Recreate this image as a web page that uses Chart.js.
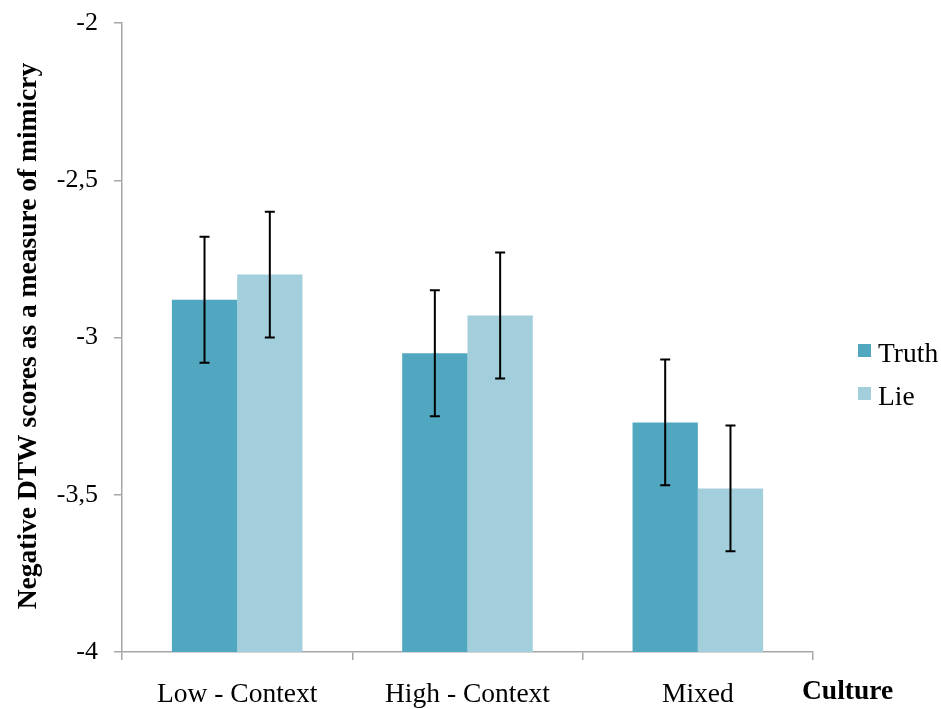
<!DOCTYPE html>
<html lang="en">
<head>
    <meta charset="UTF-8">
    <title>Mimicry by Culture</title>
    <script src="https://cdn.jsdelivr.net/npm/chart.js"></script>
    <style>
        body { margin: 0; background: #fff; }
        #wrap { width: 941px; height: 709px; }
    </style>
</head>
<body>
    <div id="wrap">
        <canvas id="mimicryChart" width="941" height="709"></canvas>
    </div>

    <script>
        // data
        const categories = ['Low - Context', 'High - Context', 'Mixed'];
        const truthMeans = [-2.88, -3.05, -3.27];
        const lieMeans = [-2.80, -2.93, -3.48];
        const truthErr = [0.2, 0.2, 0.2];
        const lieErr = [0.2, 0.2, 0.2];
        const yMin = -4;
        const yMax = -2;
        const yStep = 0.5;

        const serif = '"Liberation Serif", "Times New Roman", serif';
        const axisGray = '#a6a6a6';
        const truthColor = '#50a7bf';
        const lieColor = '#a3cfdc';

        // error bars, drawn with the y scale
        const errorBars = {
            id: 'errorBars',
            afterDatasetsDraw(chart) {
                const ctx = chart.ctx;
                const yScale = chart.scales.y;
                const errs = [truthErr, lieErr];
                const means = [truthMeans, lieMeans];
                ctx.save();
                ctx.strokeStyle = '#000';
                ctx.lineWidth = 2;
                chart.data.datasets.forEach((ds, di) => {
                    const meta = chart.getDatasetMeta(di);
                    meta.data.forEach((bar, i) => {
                        const top = yScale.getPixelForValue(means[di][i] + errs[di][i]);
                        const bottom = yScale.getPixelForValue(means[di][i] - errs[di][i]);
                        const x = bar.x;
                        ctx.beginPath();
                        ctx.moveTo(x, top);
                        ctx.lineTo(x, bottom);
                        ctx.moveTo(x - 5, top);
                        ctx.lineTo(x + 5, top);
                        ctx.moveTo(x - 5, bottom);
                        ctx.lineTo(x + 5, bottom);
                        ctx.stroke();
                    });
                });
                ctx.restore();
            }
        };

        // legend + axis titles
        const extras = {
            id: 'extras',
            afterDraw(chart) {
                const ctx = chart.ctx;
                ctx.save();
                ctx.fillStyle = '#000';

                // y title
                ctx.font = 'bold 27.5px ' + serif;
                ctx.textAlign = 'center';
                ctx.textBaseline = 'middle';
                ctx.translate(29, 336);
                ctx.rotate(-Math.PI / 2);
                ctx.fillText('Negative DTW scores as a measure of mimicry', 0, 0);
                ctx.setTransform(1, 0, 0, 1, 0, 0);

                // x title
                ctx.textAlign = 'left';
                ctx.fillText('Culture', 802, 692);

                // legend
                ctx.font = '27.5px ' + serif;
                const items = [['Truth', truthColor, 355], ['Lie', lieColor, 398]];
                items.forEach(([label, color, y]) => {
                    ctx.fillStyle = color;
                    ctx.fillRect(858, y - 11, 13, 13);
                    ctx.fillStyle = '#000';
                    ctx.fillText(label, 878, y);
                });
                ctx.restore();
            }
        };

        const ctx = document.getElementById('mimicryChart').getContext('2d');
        new Chart(ctx, {
            type: 'bar',
            data: {
                labels: categories,
                datasets: [
                    {
                        label: 'Truth',
                        data: truthMeans.map(v => [yMin, v]),
                        backgroundColor: truthColor,
                        borderWidth: 0
                    },
                    {
                        label: 'Lie',
                        data: lieMeans.map(v => [yMin, v]),
                        backgroundColor: lieColor,
                        borderWidth: 0
                    }
                ]
            },
            options: {
                responsive: false,
                animation: false,
                devicePixelRatio: 1,
                layout: {
                    padding: { left: 0, right: 128, top: 23, bottom: 0 }
                },
                plugins: {
                    legend: { display: false },
                    tooltip: { enabled: false }
                },
                datasets: {
                    bar: { categoryPercentage: 0.567, barPercentage: 1.0 }
                },
                scales: {
                    x: {
                        afterFit: s => { s.height = 57; },
                        grid: {
                            offset: true,
                            drawOnChartArea: false,
                            tickLength: 8,
                            color: axisGray,
                            lineWidth: 1.5
                        },
                        border: { color: axisGray, width: 1.5 },
                        ticks: {
                            color: '#000',
                            padding: 18,
                            font: { family: serif, size: 27.5 }
                        }
                    },
                    y: {
                        min: yMin,
                        max: yMax,
                        afterFit: s => {
                            s.width = 122;
                            s.paddingTop = 0;
                            s.paddingBottom = 0;
                        },
                        grid: {
                            drawOnChartArea: false,
                            tickLength: 8,
                            color: axisGray,
                            lineWidth: 1.5
                        },
                        border: { color: axisGray, width: 1.5 },
                        ticks: {
                            stepSize: yStep,
                            color: '#000',
                            padding: 16,
                            font: { family: serif, size: 26 },
                            callback: v => String(v).replace('.', ',')
                        }
                    }
                }
            },
            plugins: [errorBars, extras]
        });
    </script>
</body>
</html>
